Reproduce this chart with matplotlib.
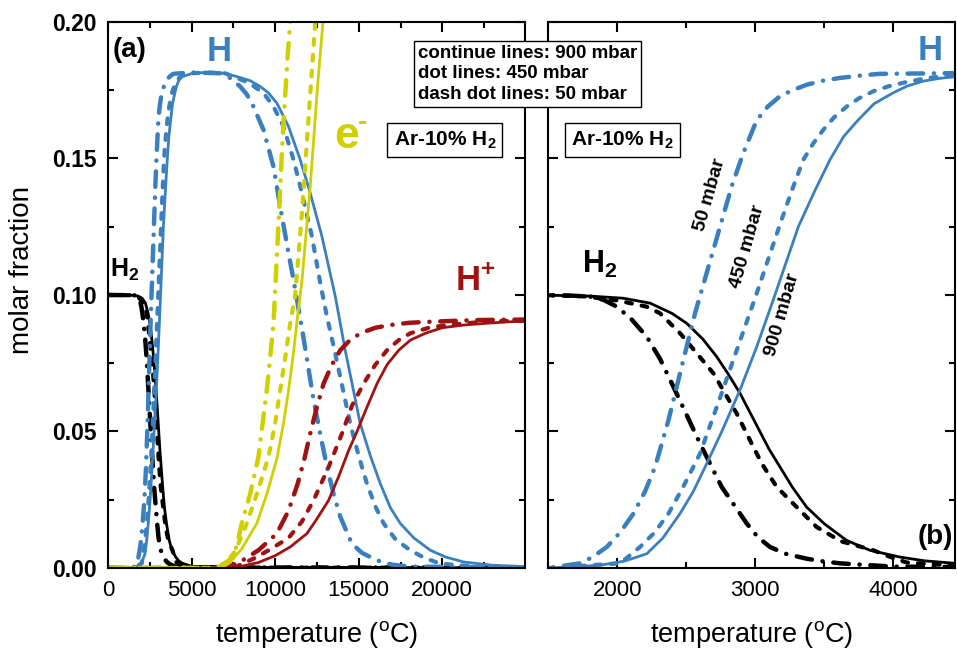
import numpy as np
import matplotlib
matplotlib.use("Agg")
import matplotlib.pyplot as plt
from matplotlib.ticker import MultipleLocator

plt.rcParams['font.family'] = ['Liberation Sans', 'DejaVu Sans']
plt.rcParams['mathtext.fontset'] = 'custom'
plt.rcParams['mathtext.rm'] = 'Liberation Sans'
plt.rcParams['mathtext.bf'] = 'Liberation Sans:bold'

# ---------------- data (temperature in oC, molar fraction) ----------------
T_H2_900 = [0, 1500, 1800, 2043, 2237, 2394, 2503, 2620, 2720, 2800, 2889, 3034, 3100, 3179, 3270, 3372, 3500, 3662, 3830, 4048, 4230, 4450, 5000, 7000, 10000, 15000, 20000, 25000]
y_H2_900 = [0.1, 0.0999, 0.0996, 0.0988, 0.097, 0.0933, 0.0896, 0.0838, 0.0774, 0.0713, 0.064, 0.0499, 0.0435, 0.037, 0.0295, 0.0223, 0.0162, 0.0101, 0.0065, 0.004, 0.0026, 0.0017, 0.0006, 0.0002, 0.0002, 0.0002, 0.0001, 0.0001]
T_H2_450 = [0, 1500, 1754, 2000, 2213, 2309, 2454, 2696, 2865, 2985, 3050, 3155, 3300, 3445, 3620, 3855, 3970, 4097, 4450, 5000, 10000, 25000]
y_H2_450 = [0.1, 0.0999, 0.0995, 0.098, 0.0957, 0.0933, 0.086, 0.0713, 0.0566, 0.0444, 0.038, 0.0297, 0.0223, 0.015, 0.0098, 0.0065, 0.0042, 0.002, 0.0008, 0.0003, 0.0001, 0.0001]
T_H2_50 = [0, 1500, 1650, 1802, 1900, 1996, 2100, 2213, 2310, 2406, 2599, 2756, 2938, 3020, 3106, 3220, 3372, 3480, 3614, 4000, 5000, 25000]
y_H2_50 = [0.1, 0.0999, 0.0998, 0.0994, 0.0982, 0.0957, 0.0912, 0.0847, 0.0765, 0.0664, 0.0456, 0.0297, 0.0163, 0.0112, 0.0077, 0.0052, 0.0034, 0.0025, 0.0017, 0.0005, 0.0002, 0.0001]

T_H_900 = [0, 1500, 1875, 2050, 2213, 2330, 2454, 2550, 2636, 2756, 2889, 3010, 3130, 3312, 3430, 3541, 3640, 3744, 3860, 3998, 4100, 4215, 4330, 4459, 5100, 6000, 7000, 7705, 8500, 9100, 9600, 10100, 10800, 11500, 12100, 12800, 13600, 14190, 15090, 15700, 16290, 16900, 17490, 18300, 19280, 20200, 21280, 23000, 25000]
y_H_900 = [0, 0, 0.001, 0.0025, 0.0052, 0.011, 0.0199, 0.028, 0.037, 0.0499, 0.0652, 0.081, 0.0982, 0.125, 0.138, 0.1495, 0.158, 0.164, 0.170, 0.174, 0.1765, 0.1783, 0.1793, 0.180, 0.1813, 0.1815, 0.1812, 0.180, 0.1785, 0.1764, 0.174, 0.1703, 0.1617, 0.1495, 0.1373, 0.1214, 0.0994, 0.0798, 0.0529, 0.041, 0.0309, 0.022, 0.0163, 0.011, 0.0065, 0.004, 0.0022, 0.001, 0.0005]
T_H_450 = [0, 1500, 2020, 2164, 2270, 2370, 2480, 2599, 2756, 2890, 3010, 3190, 3270, 3348, 3420, 3493, 3570, 3662, 3750, 3855, 3970, 4097, 4250, 4459, 5000, 6000, 7000, 7500, 8400, 9300, 9900, 10500, 11100, 11600, 12200, 12700, 13100, 13550, 14490, 15000, 15490, 16000, 16490, 17200, 18080, 19000, 19880, 22000, 25000]
y_H_450 = [0, 0, 0.0017, 0.0077, 0.013, 0.0199, 0.030, 0.0419, 0.064, 0.0833, 0.1006, 0.1275, 0.139, 0.1495, 0.1555, 0.1605, 0.165, 0.169, 0.172, 0.1746, 0.1765, 0.178, 0.1795, 0.1805, 0.1812, 0.1815, 0.1812, 0.180, 0.1778, 0.174, 0.169, 0.1617, 0.1495, 0.1373, 0.1214, 0.1043, 0.092, 0.0798, 0.0529, 0.041, 0.0309, 0.0225, 0.0163, 0.0105, 0.0065, 0.0035, 0.0016, 0.0005, 0.0002]
T_H_50 = [0, 1500, 1730, 1820, 1923, 2020, 2116, 2200, 2273, 2370, 2454, 2563, 2744, 2830, 2913, 3010, 3090, 3179, 3270, 3372, 3490, 3614, 3750, 3900, 5000, 6700, 7300, 7900, 8300, 8700, 9300, 9900, 10300, 10800, 11100, 11650, 12300, 12700, 13100, 13500, 13900, 14590, 15200, 16090, 17000, 18000, 25000]
y_H_50 = [0, 0, 0.0017, 0.004, 0.0077, 0.013, 0.0199, 0.028, 0.037, 0.0541, 0.0713, 0.0933, 0.125, 0.140, 0.152, 0.164, 0.169, 0.1728, 0.175, 0.177, 0.1785, 0.1795, 0.1803, 0.181, 0.1815, 0.1812, 0.1795, 0.1764, 0.1735, 0.169, 0.1605, 0.147, 0.1324, 0.1153, 0.1055, 0.086, 0.0615, 0.049, 0.037, 0.027, 0.0187, 0.0089, 0.0055, 0.0028, 0.0012, 0.0005, 0.0002]

T_e_900 = [0, 6800, 7300, 8000, 8900, 9500, 10100, 10500, 10800, 11100, 11300, 11600, 12100, 12530, 12860, 13000]
y_e_900 = [0, 0, 0.002, 0.007, 0.0163, 0.027, 0.04, 0.053, 0.065, 0.079, 0.09, 0.105, 0.14, 0.176, 0.2, 0.21]
T_e_450 = [0, 6500, 7000, 7600, 8300, 8900, 9600, 10000, 10300, 10600, 10900, 11200, 11600, 12000, 12400, 12550]
y_e_450 = [0, 0, 0.0016, 0.006, 0.0163, 0.027, 0.0407, 0.053, 0.0652, 0.077, 0.0896, 0.1, 0.13, 0.165, 0.2, 0.21]
T_e_50 = [0, 6500, 7300, 7700, 8000, 8500, 9000, 9250, 9500, 9700, 9900, 10150, 10450, 10750, 10900, 11000]
y_e_50 = [0, 0, 0.003, 0.008, 0.0163, 0.027, 0.0407, 0.053, 0.0652, 0.077, 0.0896, 0.12, 0.158, 0.188, 0.1997, 0.21]

T_Hp_900 = [0, 7500, 9000, 10000, 10900, 11900, 12500, 13200, 13800, 14400, 14850, 15500, 16100, 16700, 17400, 18100, 19000, 20000, 21300, 23000, 25000]
y_Hp_900 = [0, 0, 0.002, 0.0045, 0.0077, 0.0126, 0.018, 0.0248, 0.0335, 0.0431, 0.0493, 0.059, 0.0676, 0.0745, 0.0798, 0.0835, 0.086, 0.088, 0.089, 0.0898, 0.0905]
T_Hp_450 = [0, 7500, 8700, 9700, 10800, 11600, 12300, 13200, 14000, 14600, 15300, 16000, 16700, 17400, 18100, 19200, 20300, 23000, 25000]
y_Hp_450 = [0, 0, 0.0034, 0.0068, 0.011, 0.017, 0.0248, 0.037, 0.0493, 0.0595, 0.0676, 0.0745, 0.0798, 0.0835, 0.086, 0.088, 0.089, 0.0905, 0.0905]
T_Hp_50 = [0, 7000, 7900, 9000, 10100, 10800, 11350, 11750, 12100, 12500, 12900, 13400, 13900, 14400, 15100, 16000, 16900, 18000, 19300, 22000, 25000]
y_Hp_50 = [0, 0, 0.0022, 0.0065, 0.0126, 0.021, 0.0309, 0.040, 0.0493, 0.059, 0.0676, 0.0745, 0.0798, 0.083, 0.086, 0.088, 0.089, 0.0898, 0.0902, 0.0908, 0.091]

c_blue = "#3a80bf"; c_yel = "#d0cf00"; c_red = "#a01212"; c_blk = "black"

solid = dict(lw=2.0, ls="-")
dash = dict(lw=3.0, dashes=(1.4, 2.4), dash_capstyle="round")
dashdot = dict(lw=3.2, dashes=(3.5, 2.4, 0.05, 2.4), dash_capstyle="round")

species = [
    (c_blk, (T_H2_900, y_H2_900), (T_H2_450, y_H2_450), (T_H2_50, y_H2_50)),
    (c_blue, (T_H_900, y_H_900), (T_H_450, y_H_450), (T_H_50, y_H_50)),
    (c_red, (T_Hp_900, y_Hp_900), (T_Hp_450, y_Hp_450), (T_Hp_50, y_Hp_50)),
    (c_yel, (T_e_900, y_e_900), (T_e_450, y_e_450), (T_e_50, y_e_50)),
]

fig = plt.figure(figsize=(9.57, 6.48), dpi=100)
ax1 = fig.add_axes([0.1129, 0.1235, 0.4357, 0.8426])
ax2 = fig.add_axes([0.5731, 0.1235, 0.4251, 0.8426])

for ax in (ax1, ax2):
    for color, s900, s450, s50 in species:
        if ax is ax2 and color in (c_red, c_yel):
            continue
        ax.plot(s50[0], s50[1], color=color, **dashdot)
        ax.plot(s450[0], s450[1], color=color, **dash)
        ax.plot(s900[0], s900[1], color=color, **solid)
    ax.set_ylim(0, 0.2)
    ax.yaxis.set_major_locator(MultipleLocator(0.05))
    ax.yaxis.set_minor_locator(MultipleLocator(0.025))
    for sp in ax.spines.values():
        sp.set_linewidth(1.5)
    ax.tick_params(which="both", direction="in", top=True, right=True, width=1.5)
    ax.tick_params(which="major", length=7)
    ax.tick_params(which="minor", length=4.5)
    ax.tick_params(axis="x", labelsize=16, pad=9)
    ax.set_xlabel("temperature ($^{\\mathrm{o}}$C)", fontsize=19.5)
    ax.xaxis.set_label_coords(0.5, -0.093)

ax1.set_xlim(0, 24950)
ax1.xaxis.set_major_locator(MultipleLocator(5000))
ax1.xaxis.set_minor_locator(MultipleLocator(2500))
ax1.tick_params(axis="y", labelsize=16.5, pad=8)
for lab in ax1.get_yticklabels():
    lab.set_fontweight("bold")
ax1.yaxis.set_major_formatter(plt.FormatStrFormatter("%.2f"))
ax1.set_ylabel("molar fraction", fontsize=20)
ax1.yaxis.set_label_coords(-0.175, 0.546)

ax2.set_xlim(1500, 4450)
ax2.xaxis.set_major_locator(MultipleLocator(1000))
ax2.xaxis.set_minor_locator(MultipleLocator(500))
ax2.tick_params(axis="y", labelleft=False)

# ---------------- annotations ----------------
ax1.text(0.012, 0.949, "(a)", transform=ax1.transAxes, fontsize=20, fontweight="bold", ha="left", va="center")
ax1.text(0.266, 0.945, "H", transform=ax1.transAxes, fontsize=25, fontweight="bold", color=c_blue, ha="center", va="center")
ax1.text(0.005, 0.545, "H$_\\mathbf{2}$", transform=ax1.transAxes, fontsize=18, fontweight="bold", ha="left", va="center")
ax1.text(0.573, 0.79, "e", transform=ax1.transAxes, fontsize=32, fontweight="bold", color=c_yel, ha="center", va="center")
ax1.text(0.610, 0.815, "-", transform=ax1.transAxes, fontsize=20, fontweight="bold", color=c_yel, ha="center", va="center")
ax1.text(0.88, 0.524, "H$^\\mathbf{+}$", transform=ax1.transAxes, fontsize=25, fontweight="bold", color=c_red, ha="center", va="center")
box = dict(boxstyle="square,pad=0.3", fc="white", ec="black", lw=1)
ax1.text(0.808, 0.784, "Ar-10% H$_\\mathbf{2}$", transform=ax1.transAxes, fontsize=15, fontweight="bold", ha="center", va="center", bbox=box)

ax2.text(0.181, 0.784, "Ar-10% H$_\\mathbf{2}$", transform=ax2.transAxes, fontsize=15, fontweight="bold", ha="center", va="center", bbox=box)
ax2.text(0.938, 0.947, "H", transform=ax2.transAxes, fontsize=25, fontweight="bold", color=c_blue, ha="center", va="center")
ax2.text(0.127, 0.555, "H$_\\mathbf{2}$", transform=ax2.transAxes, fontsize=22, fontweight="bold", ha="center", va="center")
ax2.text(0.994, 0.056, "(b)", transform=ax2.transAxes, fontsize=20, fontweight="bold", ha="right", va="center")
for txt, xx, yy in [("50 mbar", 0.398, 0.683), ("450 mbar", 0.490, 0.588), ("900 mbar", 0.576, 0.463)]:
    ax2.text(xx, yy, txt, transform=ax2.transAxes, fontsize=14, fontweight="bold", rotation=74, ha="center", va="center", rotation_mode="anchor")

fig.text(418 / 957, 1 - 74 / 648, "continue lines: 900 mbar\ndot lines: 450 mbar\ndash dot lines: 50 mbar",
         fontsize=13.5, fontweight="bold", ha="left", va="center", linespacing=1.3,
         bbox=dict(boxstyle="square,pad=0.2", fc="white", ec="black", lw=1), zorder=10)

plt.savefig("out.png", dpi=100)
